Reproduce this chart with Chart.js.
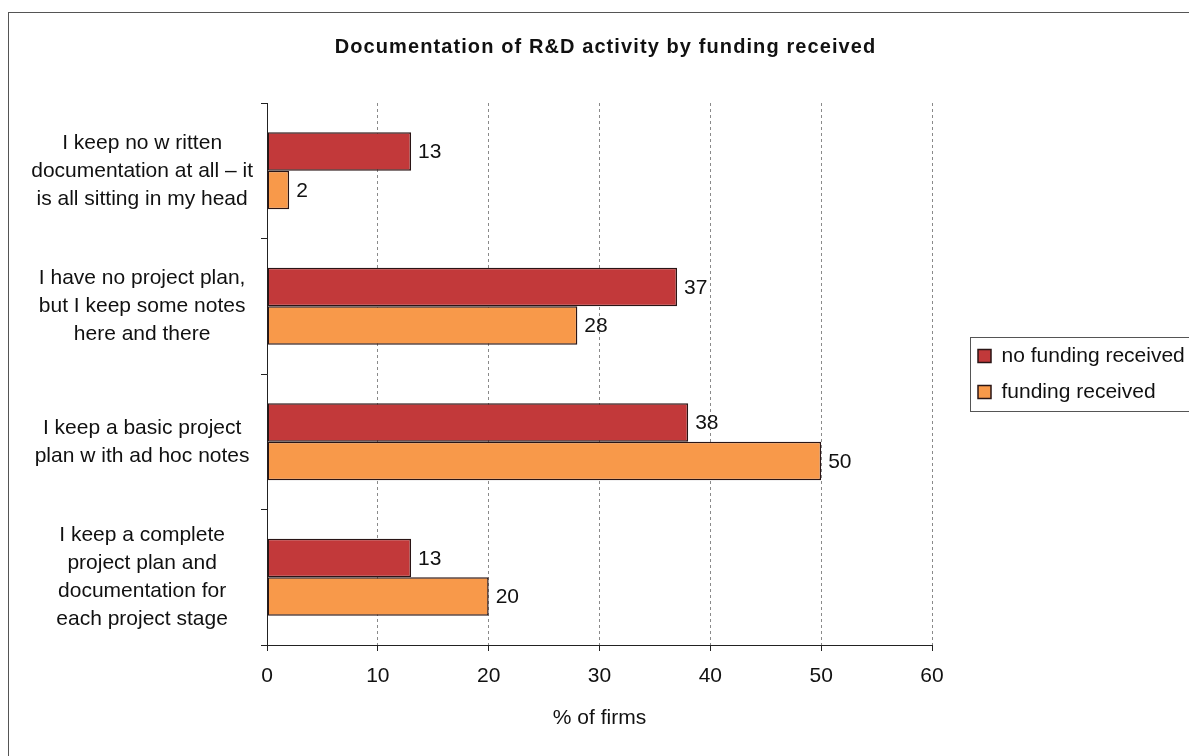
<!DOCTYPE html>
<html>
<head>
<meta charset="utf-8">
<script src="https://cdn.jsdelivr.net/npm/chart.js@4/dist/chart.umd.min.js"></script>
<style>
  html, body { margin: 0; padding: 0; background: #ffffff; }
  #wrap { width: 1189px; height: 756px; }
</style>
</head>
<body>
<div id="wrap"><canvas id="c" width="1189" height="756"></canvas></div>
<script>
// Survey categories (multi-line axis labels)
const categories = [
  ["I keep no w ritten", "documentation at all – it", "is all sitting in my head"],
  ["I have no project plan,", "but I keep some notes", "here and there"],
  ["I keep a basic project", "plan w ith ad hoc notes"],
  ["I keep a complete", "project plan and", "documentation for", "each project stage"]
];

// Share of firms (%) per group
const noFundingReceived = [13, 37, 38, 13];
const fundingReceived = [2, 28, 50, 20];

// Value axis ticks
const xTicks = [0, 10, 20, 30, 40, 50, 60];

const seriesNames = ["no funding received", "funding received"];

const FONT = "'Liberation Sans', Arial, sans-serif";
const LEGEND_WIDTH = 257;
const LEGEND_SWATCH_X = 978;

// White page with the outer frame; wider tracking for the title
const framePlugin = {
  id: 'frame',
  beforeDraw(chart) {
    const tb = chart.titleBlock;
    if (tb && !tb._spaced) {
      const drawTitle = tb.draw.bind(tb);
      tb.draw = function () {
        const ctx = this.ctx;
        ctx.save();
        ctx.letterSpacing = '1.1px';
        ctx.translate(7, 0);
        drawTitle();
        ctx.restore();
      };
      tb._spaced = true;
    }
    const ctx = chart.ctx;
    ctx.save();
    ctx.fillStyle = '#ffffff';
    ctx.fillRect(0, 0, chart.width, chart.height);
    ctx.strokeStyle = '#555555';
    ctx.lineWidth = 1;
    ctx.strokeRect(8.5, 12.5, chart.width + 20, chart.height + 20);
    ctx.restore();
  }
};

// Fixed legend column, items placed a little right of the plot, boxed
const legendBoxPlugin = {
  id: 'legendBox',
  beforeLayout(chart) {
    const lg = chart.legend;
    if (lg && !lg._fixedWidth) {
      const fit = lg.fit.bind(lg);
      lg.fit = function () {
        fit();
        this.width = LEGEND_WIDTH;
      };
      lg._fixedWidth = true;
    }
  },
  afterLayout(chart) {
    const lg = chart.legend;
    const pad = lg.options.labels.padding;
    const shift = (LEGEND_SWATCH_X - pad) - lg.left;
    lg.left += shift;
    lg.right += shift;
  },
  afterDraw(chart) {
    const lg = chart.legend;
    const boxes = lg.legendHitBoxes;
    if (!boxes || !boxes.length) return;
    const first = boxes[0];
    const last = boxes[boxes.length - 1];
    const top = first.top + first.height / 2 - 19;
    const bottom = last.top + last.height / 2 + 19;
    const ctx = chart.ctx;
    ctx.save();
    ctx.strokeStyle = '#555555';
    ctx.lineWidth = 1;
    ctx.strokeRect(LEGEND_SWATCH_X - 8 + 0.5, Math.round(top) + 0.5, chart.width, Math.round(bottom - top));
    ctx.restore();
  }
};

// Value labels at the end of each bar
const valueLabelPlugin = {
  id: 'valueLabels',
  afterDatasetsDraw(chart) {
    const ctx = chart.ctx;
    ctx.save();
    ctx.font = '21px ' + FONT;
    ctx.fillStyle = '#111111';
    ctx.textAlign = 'left';
    ctx.textBaseline = 'middle';
    chart.data.datasets.forEach((ds, di) => {
      const meta = chart.getDatasetMeta(di);
      meta.data.forEach((bar, i) => {
        ctx.fillText(String(ds.data[i]), bar.x + 7, bar.y + 1);
      });
    });
    ctx.restore();
  }
};

new Chart(document.getElementById('c'), {
  type: 'bar',
  data: {
    labels: categories,
    datasets: [
      {
        label: seriesNames[0],
        data: noFundingReceived,
        backgroundColor: '#C2393A',
        borderColor: '#2a1515',
        borderWidth: 1.5,
        borderSkipped: false
      },
      {
        label: seriesNames[1],
        data: fundingReceived,
        backgroundColor: '#F8994A',
        borderColor: '#2a1515',
        borderWidth: 1.5,
        borderSkipped: false
      }
    ]
  },
  options: {
    indexAxis: 'y',
    responsive: false,
    animation: false,
    devicePixelRatio: 1,
    layout: { padding: { left: 8, top: 12, right: 0, bottom: 0 } },
    datasets: {
      bar: { categoryPercentage: 0.57, barPercentage: 1.0 }
    },
    scales: {
      x: {
        min: 0,
        max: 60,
        afterBuildTicks(scale) {
          scale.ticks = xTicks.map(v => ({ value: v }));
        },
        afterFit(scale) { scale.height = 111; },
        grid: {
          display: true,
          drawOnChartArea: true,
          drawTicks: true,
          tickLength: 6,
          color: '#8a8a8a',
          lineWidth: 1,
          tickColor: '#222222',
          tickBorderDash: []
        },
        border: { display: true, color: '#222222', width: 1, dash: [3, 3] },
        ticks: {
          padding: 13,
          color: '#111111',
          font: { family: FONT, size: 21 }
        },
        title: {
          display: true,
          text: '% of firms',
          color: '#111111',
          font: { family: FONT, size: 21 },
          padding: { top: 0, bottom: 25 }
        }
      },
      y: {
        offset: true,
        afterFit(scale) { scale.width = 259; },
        grid: {
          display: true,
          offset: true,
          drawOnChartArea: false,
          drawTicks: true,
          tickLength: 6,
          color: '#222222',
          tickColor: '#222222'
        },
        border: { display: true, color: '#222222', width: 1 },
        ticks: {
          crossAlign: 'center',
          padding: 8,
          color: '#111111',
          font: { family: FONT, size: 21, lineHeight: 1.333 }
        }
      }
    },
    plugins: {
      title: {
        display: true,
        text: 'Documentation of R&D activity by funding received',
        color: '#111111',
        font: { family: FONT, size: 20, weight: 'bold' },
        padding: { top: 23, bottom: 44 }
      },
      legend: {
        display: true,
        position: 'right',
        align: 'center',
        fullSize: false,
        labels: {
          boxWidth: 13,
          boxHeight: 13,
          padding: 15,
          color: '#111111',
          font: { family: FONT, size: 21 }
        }
      },
      tooltip: { enabled: false }
    }
  },
  plugins: [framePlugin, legendBoxPlugin, valueLabelPlugin]
});
</script>
</body>
</html>
